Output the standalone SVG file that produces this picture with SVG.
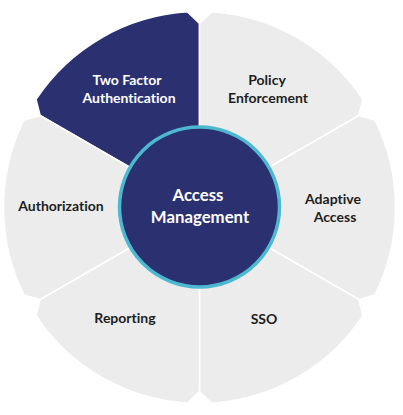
<svg xmlns="http://www.w3.org/2000/svg" width="403" height="415" viewBox="0 0 403 415">
<style>
.seg{fill:#ececec;stroke:#ffffff;stroke-width:1.5;stroke-linejoin:miter}
.dark{fill:#2b3170}
.t{font-family:Lato,"Open Sans","Liberation Sans",sans-serif;font-weight:bold;font-size:14px;text-anchor:middle;fill:#1e1e1e;font-variant-ligatures:none}
.w{fill:#ffffff}
.big{font-size:16.8px}
</style>
<rect width="403" height="415" fill="#ffffff"/>
<g id="two-factor">
<path class="seg dark" d="M199.5,207.5 L40.15,115.5 L36.06,99.32 A196,196 0 0 1 187.53,11.87 L199.5,23.5 Z"/>
<text class="t w" x="127" y="85">Two Factor</text>
<text class="t w" x="129" y="103">Authentication</text>
</g>
<g id="policy">
<path class="seg" d="M199.5,207.5 L199.5,23.5 L211.47,11.87 A196,196 0 0 1 362.94,99.32 L358.85,115.5 Z"/>
<text class="t" x="267" y="85">Policy</text>
<text class="t" x="268" y="103">Enforcement</text>
</g>
<g id="adaptive">
<path class="seg" d="M199.5,207.5 L358.85,115.5 L374.91,120.04 A196,196 0 0 1 374.91,294.96 L358.85,299.5 Z"/>
<text class="t" x="333" y="204">Adaptive</text>
<text class="t" x="335" y="222">Access</text>
</g>
<g id="sso">
<path class="seg" d="M199.5,207.5 L358.85,299.5 L362.94,315.68 A196,196 0 0 1 211.47,403.13 L199.5,391.5 Z"/>
<text class="t" x="264" y="324">SSO</text>
</g>
<g id="reporting">
<path class="seg" d="M199.5,207.5 L199.5,391.5 L187.53,403.13 A196,196 0 0 1 36.06,315.68 L40.15,299.5 Z"/>
<text class="t" x="125" y="323">Reporting</text>
</g>
<g id="authorization">
<path class="seg" d="M199.5,207.5 L40.15,299.5 L24.09,294.96 A196,196 0 0 1 24.09,120.04 L40.15,115.5 Z"/>
<text class="t" x="61" y="211">Authorization</text>
</g>
<g id="connectors"></g>
<g id="access-management">
<circle cx="199.5" cy="207" r="80" fill="#2b3170" stroke="#4cb9d1" stroke-width="3.5"/>
<text class="t w big" x="198" y="201">Access</text>
<text class="t w big" x="200" y="223">Management</text>
</g>
</svg>
